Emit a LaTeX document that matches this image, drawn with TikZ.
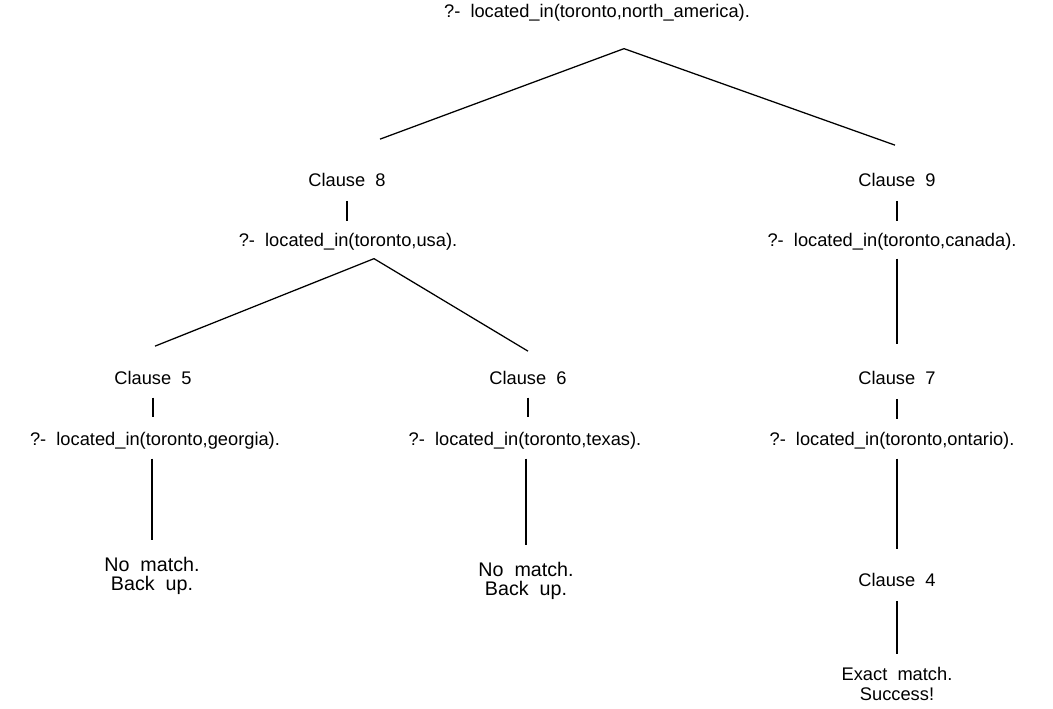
\documentclass[tikz,border=0pt]{standalone}
\usepackage{fontspec}
\setmainfont{Liberation Sans}

\begin{document}
\begin{tikzpicture}[
    x = 0.25mm,
    y = -0.25mm,
    line width = .9pt,
    txt/.style = {
      inner sep = 0pt,
      align = center,
      font = \fontsize{13}{14}\selectfont
    },
    note/.style = {
      txt,
      font = \fontsize{14}{14}\selectfont
    },
    bar/.style 2 args = {
      shorten <= #1,
      shorten >= #2
    }
  ]
  \useasboundingbox (0,0) rectangle (1053,708);

  % goals and clauses
  \node[txt] (root) at (597,13)  {?-\ \ located\_in(toronto,north\_america).};
  \node[txt] (c8)   at (347,180) {Clause\ \ 8};
  \node[txt] (q8)   at (348,242) {?-\ \ located\_in(toronto,usa).};
  \node[txt] (c9)   at (897,180) {Clause\ \ 9};
  \node[txt] (q9)   at (892,242) {?-\ \ located\_in(toronto,canada).};
  \node[txt] (c5)   at (153,378) {Clause\ \ 5};
  \node[txt] (q5)   at (155,441) {?-\ \ located\_in(toronto,georgia).};
  \node[txt] (c6)   at (528,378) {Clause\ \ 6};
  \node[txt] (q6)   at (525,441) {?-\ \ located\_in(toronto,texas).};
  \node[txt] (c7)   at (897,378) {Clause\ \ 7};
  \node[txt] (q7)   at (892,441) {?-\ \ located\_in(toronto,ontario).};
  \node[txt] (c4)   at (897,580) {Clause\ \ 4};
  \node[note] (n5)  at (152,576) {No\ \ match.\\Back\ \ up.};
  \node[note] (n6)  at (526,581) {No\ \ match.\\Back\ \ up.};
  \node[txt]  (ok)  at (897,684) {Exact\ \ match.\\Success!};

  % branch points
  \coordinate (r-tip) at ([shift={(27,26.5)}]root.south);
  \coordinate (u-tip) at ([shift={(26,7.5)}]q8.south);

  \draw (r-tip) -- ([shift={(33,-33.5)}]c8.north);
  \draw (r-tip) -- ([shift={(-2,-27.5)}]c9.north);
  \draw (u-tip) -- ([shift={(2,-24.5)}]c5.north);
  \draw (u-tip) -- ([shift={(0,-19.5)}]c6.north);

  % vertical steps
  \draw[bar={3.4mm}{2.9mm}] (c8.south) -- (q8.north -| c8);
  \draw[bar={3.4mm}{2.9mm}] (c9.south) -- (q9.north -| c9);
  \draw[bar={1.9mm}{6.6mm}] (q9.south -| c7) -- (c7.north);
  \draw[bar={3.4mm}{3.1mm}] (c7.south) -- (q7.north -| c7);
  \draw[bar={2.1mm}{5.9mm}] (q7.south -| c4) -- (c4.north);
  \draw[bar={3.4mm}{3.2mm}] (c4.south) -- (ok.north);
  \draw[bar={3.1mm}{3.6mm}] (c5.south) -- (q5.north -| c5);
  \draw[bar={2.1mm}{4mm}]   (q5.south -| n5) -- (n5.north);
  \draw[bar={3.1mm}{3.6mm}] (c6.south) -- (q6.north -| c6);
  \draw[bar={2.1mm}{4.2mm}] (q6.south -| n6) -- (n6.north);
\end{tikzpicture}
\end{document}
